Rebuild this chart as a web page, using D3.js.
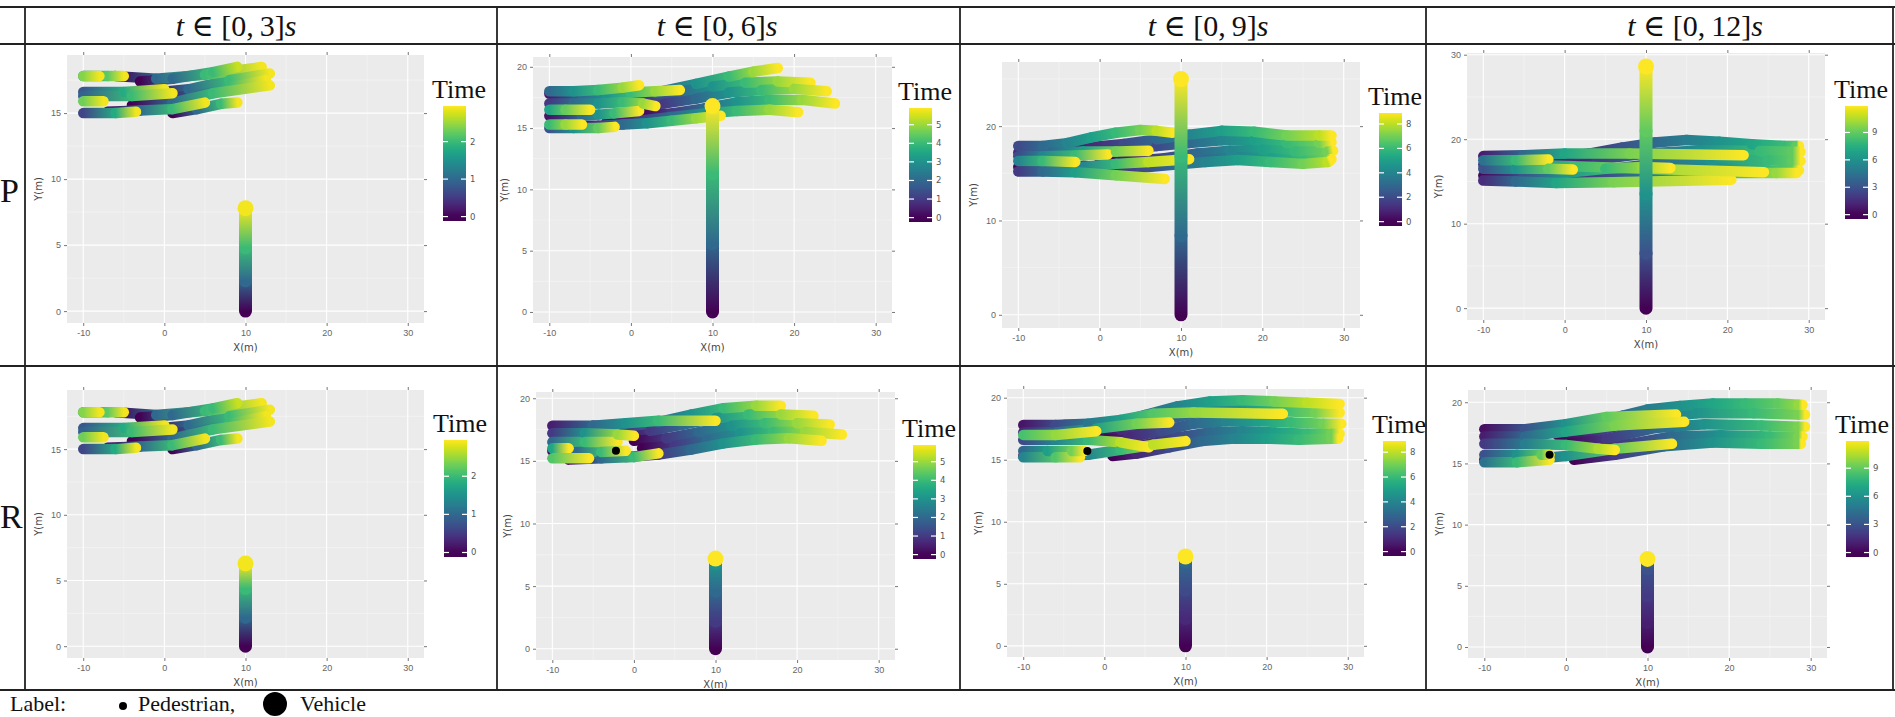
<!DOCTYPE html>
<meta charset="utf-8">
<script src="https://d3js.org/d3.v7.min.js"></script>
<style>
  body { margin: 0; background: #fff; }
</style>
<div id="fig"></div>
<script>

// ---- values ----
// time window of each column (s)
var tEnd = [3, 6, 9, 12];
var rowLabels = ["P", "R"];
// upper limit of the Time colour scale per column
var timeMax = [2.95, 5.9, 8.9, 11.9];
var timeTicks = [[0, 1, 2], [0, 1, 2, 3, 4, 5], [0, 2, 4, 6, 8], [0, 3, 6, 9]];
var xTicks = [-10, 0, 10, 20, 30];
var yTicksP = [[0, 5, 10, 15], [0, 5, 10, 15, 20], [0, 10, 20], [0, 10, 20, 30]];
var yTicksR = [[0, 5, 10, 15], [0, 5, 10, 15, 20], [0, 5, 10, 15, 20], [0, 5, 10, 15, 20]];

// pedestrian tracks, each point is [time, x, y]
var pedP1 = [
  [[0,-6,17.8],[1,-1,17.6],[2,5,17.9],[2.9,12,18.5]],
  [[0,-3,17.4],[1,1,17.6],[2,6,18.1],[2.7,9,18.5]],
  [[0,-2,16.5],[1,3,16.8],[2,8,17.5],[2.9,13,18.0]],
  [[0,-1,16.2],[1,4,16.3],[2,8,16.9],[2.9,12.5,17.5]],
  [[0,-4,15.6],[1,1,15.8],[2,6,16.5],[2.9,13,17.1]],
  [[0,1,15.0],[1,4,15.3],[2,7,15.7],[2.9,9,15.8]],
  [[0,-7,15.1],[1,-3,15.2],[2,1,15.3],[2.9,5,15.8]],
  [[0.8,-10,16.6],[1.8,-5,16.6],[2.9,0,16.8]],
  [[0.9,-10,16.3],[2,-4,16.3],[2.9,1,16.5]],
  [[0.6,-10,15.0],[1.8,-6,15.0],[2.9,-3.5,15.1]],
  [[1.2,-10,17.8],[2.2,-7,17.8],[2.9,-5,17.8]],
  [[2.4,-10,17.8],[2.9,-8,17.8]],
  [[2.3,-10,15.9],[2.9,-7.5,15.9]]
];
var pedR1 = pedP1;

var pedP2 = [
  [[0,-5,17.8],[1,-1,17.7],[2,3,17.9],[3,8,18.6],[4,12,19.2],[5,15,19.6],[5.9,18,19.9]],
  [[0,-2,17.3],[1,2,17.5],[2,6,18.0],[3,10,18.4],[4,14,18.7],[5,18,18.8],[5.9,22,18.7]],
  [[0,0,16.8],[1,4,17.0],[2,8,17.4],[3,12,17.9],[4,16,18.1],[5,20,18.2],[5.9,24,18.0]],
  [[0,1,16.0],[1,5,16.2],[2,9,16.6],[3,13,17.1],[4,17,17.3],[5,21,17.3],[5.9,25,17.0]],
  [[0,-3,15.5],[1,1,15.6],[2,5,15.9],[3,9,16.2],[4,13,16.4],[5,17,16.5],[5.9,20.5,16.3]],
  [[0,-7,15.2],[1,-4,15.2],[2,-1,15.3],[3,2,15.4],[4,5,15.6],[5,8,15.8],[5.9,11,16.0]],
  [[0.4,-10,17.8],[2,-6,17.8],[3,-3,17.8],[4,0,17.9],[5,3,18.0],[5.9,6,18.1]],
  [[2,-10,18.0],[3,-7,18.0],[4,-4,18.1],[5,-1,18.3],[5.9,1,18.5]],
  [[1,-10,17.0],[2,-7,17.0],[3,-4,17.0],[4,-1,17.1],[5,1.5,17.0],[5.9,3,16.8]],
  [[0.3,-10,16.0],[2,-6,16.0],[3,-4,16.1],[4,-2,16.2],[5.9,1,16.4]],
  [[3.5,-10,16.5],[4.5,-8,16.5],[5.9,-5,16.5]],
  [[4,-10,15.3],[5,-8,15.3],[5.9,-6,15.3]],
  [[1.5,-10,15.0],[3,-7,15.0],[4.5,-4,15.0],[5.9,-2,15.1]]
];

var pedP3 = [
  [[0,-5,17.9],[1,-1,17.8],[2,3,18.1],[3,7,18.6],[4,11,19.1],[5,15,19.5],[6,19,19.4],[7,23,19.0],[8,27,19.0],[8.9,28.5,19.0]],
  [[0,-1,17.4],[1,3,17.5],[2,7,17.9],[3,11,18.2],[4,15,18.5],[5,19,18.5],[6,23,18.2],[7,27,18.2],[8.9,28.5,18.3]],
  [[0,0,16.2],[1,4,16.3],[2,8,16.6],[3,12,17.1],[4,16,17.4],[5,20,17.5],[6,24,17.3],[7,28,17.3],[8.9,28.7,17.4]],
  [[0,1,15.6],[1,5,15.7],[2,9,16.0],[3,13,16.4],[4,17,16.7],[5,21,16.6],[6,25,16.3],[7,28,16.4],[8.9,28.5,16.5]],
  [[0,-2,15.8],[1,1,15.5],[2,5,15.6],[3,9,15.9],[4,13,16.2],[5,17,16.4],[6,21,16.2],[7,25,16.0],[8,28,16.2],[8.9,28.3,16.3]],
  [[2,-10,17.9],[3,-7,17.9],[4,-4,18.2],[5,-1,18.8],[6,2,19.3],[7,5,19.6],[8,7,19.5],[8.9,9,19.3]],
  [[1,-10,17.2],[3,-6,17.2],[5,-2,17.3],[7,2,17.3],[8.9,6,17.4]],
  [[2,-10,16.8],[4,-7,16.8],[6,-3,16.9],[8.9,1,17.0]],
  [[1.5,-10,15.2],[3,-7,15.2],[5,-3,15.1],[7,2,14.8],[8.9,8,14.4]],
  [[0.2,-10,15.7],[2,-6,15.6],[4,-2,15.7],[6,2,16.0],[8,6,16.2],[8.9,11,16.5]],
  [[4,-10,16.3],[6,-7,16.3],[8.9,-3,16.2]]
];

var pedP4 = [
  [[0,-5,17.9],[1,-1,17.8],[2,3,18.3],[3,7,19.0],[4,11,19.6],[5,15,19.9],[6,19,19.7],[7,23,19.4],[8,27,19.2],[9,28.5,19.2],[11.9,28.8,19.2]],
  [[0,-1,17.3],[2,4,17.6],[4,10,18.3],[6,17,18.7],[8,24,18.6],[9,28,18.5],[11.9,29,18.5]],
  [[0,0,16.1],[2,5,16.4],[4,11,17.1],[6,18,17.5],[8,25,17.5],[9,28,17.4],[11.9,29,17.4]],
  [[0,1,15.5],[2,6,15.9],[4,12,16.4],[6,19,16.6],[8,25,16.3],[9,28,16.2],[11.9,28.8,16.3]],
  [[1,-10,18.0],[4,-5,18.1],[7,0,18.3],[9.5,8,18.3],[11.9,22,18.1]],
  [[2,-10,17.0],[5,-5,17.0],[8,1,16.8],[10,10,16.5],[11.9,24.5,16.1]],
  [[1.5,-10,15.1],[4,-6,15.0],[7,-1,14.8],[9.5,6,14.9],[11.9,20.5,15.2]],
  [[0.3,-10,15.7],[3,-5,15.8],[6,0,16.0],[8,5,16.5],[10,9.5,16.7],[11.9,13,16.6]],
  [[3,-10,16.5],[6,-6,16.5],[9,-2,16.5],[11.9,1,16.4]],
  [[0,-3,15.3],[1,0,15.2],[2,3,15.4],[4,8,15.6],[6,14,15.9],[8,20,16.0],[10,26,16.0],[11.9,28.5,16.0]],
  [[4.5,-10,17.5],[8,-6,17.5],[11.9,-2,17.6]]
];

var pedR2 = [
  [[0,-5,17.8],[1,-1,17.7],[2,3,18.1],[3,7,18.7],[4,11,19.2],[5,15,19.4],[5.9,18,19.4]],
  [[0,-2,17.2],[1,2,17.4],[2,6,17.9],[3,10,18.4],[4,14,18.7],[5,18,18.7],[5.9,22,18.6]],
  [[0,0,16.6],[1,4,16.8],[2,8,17.3],[3,12,17.8],[4,16,18.0],[5,20,18.0],[5.9,24,17.9]],
  [[0,1,16.0],[1,5,16.2],[2,9,16.7],[3,13,17.2],[4,17,17.3],[5,21,17.3],[5.9,25.5,17.1]],
  [[0,-1,15.3],[1,3,15.5],[2,7,15.9],[3,11,16.4],[4,15,16.7],[5,19,16.8],[5.9,23,16.6]],
  [[0.5,-10,17.8],[2,-5,17.8],[3,-1,18.0],[4,3,18.2],[5.9,10,18.2]],
  [[1,-10,17.2],[3,-6,17.2],[5,-2,17.1],[5.9,0,17.0]],
  [[2,-10,16.5],[4,-6,16.5],[5.9,-2,16.5]],
  [[0.2,-10,15.8],[2,-7,15.7],[4,-4,15.7],[5.9,-1,15.8]],
  [[3.5,-10,16.0],[5.9,-8,16.0]],
  [[4.3,-10,15.2],[5.9,-5.5,15.2]],
  [[0,-8,15.1],[2,-4,15.2],[4,0,15.3],[5.9,3,15.6]]
];

var pedR3 = [
  [[0,-5,17.8],[1,-2,17.8],[2,1,17.9],[3,5,18.6],[4,9,19.3],[5,13,19.7],[6,17,19.8],[7,21,19.7],[8,25,19.6],[8.9,29,19.5]],
  [[0,-1,17.3],[1,2,17.4],[2,6,18.0],[3,10,18.6],[4,14,19.0],[5,18,19.0],[6,22,18.9],[7,26,18.8],[8.9,29,18.8]],
  [[0,0,16.6],[1,3,16.8],[2,7,17.3],[3,11,17.9],[4,15,18.1],[5,19,18.1],[6,23,18.0],[7,27,17.9],[8.9,29.2,17.9]],
  [[0,2,16.0],[1,5,16.2],[2,9,16.8],[3,13,17.2],[4,17,17.3],[5,21,17.2],[6,25,17.1],[7,28,17.1],[8.9,29,17.1]],
  [[0,1,15.3],[1,4,15.5],[2,8,16.0],[3,12,16.5],[4,16,16.7],[5,20,16.7],[6,24,16.6],[7,28,16.7],[8.9,28.8,16.7]],
  [[0.5,-10,17.8],[2,-6,17.8],[3.5,-2,17.9],[5,2,18.2],[6.5,6,18.7],[7.5,11,18.8],[8.9,22,18.7]],
  [[1,-10,17.2],[3,-6,17.2],[5,-1,17.5],[7,4,17.9],[8.9,8,18.0]],
  [[6.3,-10,17.0],[7.5,-6,17.0],[8.9,-1,17.3]],
  [[2,-10,16.6],[4,-6,16.6],[6,-2,16.6],[8,2,16.4],[8.9,5.5,16.0]],
  [[0.3,-10,15.3],[2,-6,15.3],[4,-2,15.4],[6,2,15.8],[8,6,16.2],[8.9,10,16.5]],
  [[3,-10,15.7],[5,-7,15.7],[7,-4,15.7],[8.9,-2.5,15.7]],
  [[4,-10,15.2],[6.5,-6,15.2],[8.9,-3,15.2]]
];

var pedR4 = [
  [[0,-5,17.8],[1,-2,17.8],[2,1,17.9],[3,4,18.4],[4,7,18.9],[5,10,19.4],[6,14,19.7],[7,18,19.9],[8,22,19.9],[9,26,19.9],[10,28.5,19.8],[11.9,29,19.8]],
  [[0,-1,17.3],[2,4,17.7],[4,10,18.6],[6,16,19.1],[8,23,19.1],[9.5,28.5,19.0],[11.9,29.3,19.0]],
  [[0,0,16.6],[2,5,17.0],[4,11,17.9],[6,17,18.2],[8,24,18.1],[9.5,28.5,18.0],[11.9,29.3,18.0]],
  [[0,2,16.0],[2,7,16.5],[4,13,17.2],[6,19,17.3],[8,25,17.2],[9.5,28.5,17.2],[11.9,29,17.2]],
  [[0,1,15.3],[2,6,15.7],[4,12,16.4],[6,18,16.7],[8,24,16.6],[9.5,28.5,16.6],[11.9,28.8,16.6]],
  [[0.5,-10,17.8],[3,-5,17.8],[6,0,18.2],[9,5,18.8],[11.9,13.5,19.0]],
  [[1,-10,17.2],[4,-5,17.2],[7,0,17.6],[9.5,6,18.1],[11.9,14.5,18.4]],
  [[2,-10,16.6],[5,-5,16.6],[8,0,16.5],[10.5,4,16.2],[11.9,6,16.1]],
  [[0.3,-10,15.3],[3,-5,15.3],[6,0,15.6],[9,6,16.2],[11.9,13,16.6]],
  [[3,-10,15.7],[6,-6,15.7],[9,-3,15.7],[11.9,-2,15.7]],
  [[4.5,-10,15.1],[8,-6,15.1],[11.9,-2,15.3]]
];

// vehicle tracks [time, x, y]
var vehP1 = [[0,10,0],[1,10,2.3],[2,10,4.8],[2.9,10,7.8]];
var vehP2 = [[0,10,0],[2,10,5.6],[4,10,11.3],[5.9,10,16.8]];
var vehP3 = [[0,10,0],[3,10,8.4],[6,10,16.8],[8.9,10,25]];
var vehP4 = [[0,10,0],[3,10,6.5],[6,10,13.5],[9,10,21],[11.9,10,28.6]];
var vehR1 = [[0,10,0],[1,10,2.2],[2,10,4.4],[2.9,10,6.3]];
var vehR2 = [[0,10,0],[1,10,2.2],[2,10,4.6],[3,10,6.8],[3.5,10,7.2],[5.9,10,7.2]];
var vehR3 = [[0,10,0],[1,10,2.2],[2,10,4.5],[3,10,6.8],[3.5,10,7.2],[8.9,10,7.2]];
var vehR4 = [[0,10,0],[1,10,2.0],[2,10,4.2],[3,10,6.4],[4,10,7.2],[11.9,10,7.2]];

// pedestrians drawn black (no time value)
var dotR2 = [[-2.2,15.8]];
var dotR3 = [[-2.1,15.7]];
var dotR4 = [[-2.0,15.7]];

// ---- layout ----
var xDomain = [-12, 32];
var yDomP = [[-0.9,19.4],[-0.9,20.8],[-1.4,26.8],[-1.4,30.2]];
var yDomR = [[-0.9,19.5],[-0.9,20.5],[-0.9,20.7],[-0.9,21.0]];
// plot boxes [left, top, right, bottom]; colour bars [left, top, bottom]
var boxP = [[67,55,424,323],[533,57,892,323],[1002,62,1360,328],[1467,53,1825,320]];
var boxR = [[67,390,424,658],[536,392,895,660],[1007,389,1364,657],[1468,390,1827,658]];
var barP = [[443,106,221],[909,108,222],[1379,113,226],[1845,106,219]];
var barR = [[444,440,557],[913,445,559],[1383,441,556],[1846,441,557]];
var headerX = [236, 717, 1208, 1695];

var panels = [
  {col:0, ped:pedP1, veh:vehP1, dots:[],    yDom:yDomP[0], yTicks:yTicksP[0], box:boxP[0], bar:barP[0]},
  {col:1, ped:pedP2, veh:vehP2, dots:[],    yDom:yDomP[1], yTicks:yTicksP[1], box:boxP[1], bar:barP[1]},
  {col:2, ped:pedP3, veh:vehP3, dots:[],    yDom:yDomP[2], yTicks:yTicksP[2], box:boxP[2], bar:barP[2]},
  {col:3, ped:pedP4, veh:vehP4, dots:[],    yDom:yDomP[3], yTicks:yTicksP[3], box:boxP[3], bar:barP[3]},
  {col:0, ped:pedR1, veh:vehR1, dots:[],    yDom:yDomR[0], yTicks:yTicksR[0], box:boxR[0], bar:barR[0]},
  {col:1, ped:pedR2, veh:vehR2, dots:dotR2, yDom:yDomR[1], yTicks:yTicksR[1], box:boxR[1], bar:barR[1]},
  {col:2, ped:pedR3, veh:vehR3, dots:dotR3, yDom:yDomR[2], yTicks:yTicksR[2], box:boxR[2], bar:barR[2]},
  {col:3, ped:pedR4, veh:vehR4, dots:dotR4, yDom:yDomR[3], yTicks:yTicksR[3], box:boxR[3], bar:barR[3]}
];

var serif = "'Liberation Serif', 'DejaVu Serif', serif";

var svg = d3.select("#fig")
  .append("svg")
    .attr("width", 1895)
    .attr("height", 717)
    .style("font-family", "'DejaVu Sans', sans-serif");
var defs = svg.append("defs");
var gid = 0;

// ---- table rules ----
[7, 44, 366, 690].forEach(function(yy) {
  svg.append("line").attr("x1", 0).attr("x2", 1895).attr("y1", yy).attr("y2", yy)
    .attr("stroke", "#222").attr("stroke-width", 1.8);
});
[25, 497, 960, 1426, 1893].forEach(function(xx) {
  svg.append("line").attr("x1", xx).attr("x2", xx).attr("y1", 7).attr("y2", 690)
    .attr("stroke", "#222").attr("stroke-width", 1.8);
});

// column headers  t ∈ [0,T]s
tEnd.forEach(function(T, i) {
  var t = svg.append("text")
    .attr("x", headerX[i]).attr("y", 36)
    .attr("text-anchor", "middle")
    .style("font-family", serif).style("font-size", "30px").attr("fill", "#111");
  t.append("tspan").style("font-style", "italic").text("t");
  t.append("tspan").text(" \u2208 [0,\u2009" + T + "]");
  t.append("tspan").style("font-style", "italic").text("s");
});

// row labels
svg.append("text").attr("x", 0).attr("y", 202).text(rowLabels[0])
  .style("font-family", serif).style("font-size", "34px").attr("fill", "#111");
svg.append("text").attr("x", 0).attr("y", 528).text(rowLabels[1])
  .style("font-family", serif).style("font-size", "34px").attr("fill", "#111");

// ---- one ggplot-like panel ----
function drawPanel(p) {
  var b = p.box;
  var x = d3.scaleLinear().domain(xDomain).range([b[0], b[2]]);
  var y = d3.scaleLinear().domain(p.yDom).range([b[3], b[1]]);
  var tmax = timeMax[p.col];
  var color = d3.scaleSequential(d3.interpolateViridis).domain([0, tmax]);
  var g = svg.append("g");

  g.append("rect")
    .attr("x", b[0]).attr("y", b[1])
    .attr("width", b[2] - b[0]).attr("height", b[3] - b[1])
    .attr("fill", "#ebebeb");

  // grid
  var xMinor = xTicks.slice(0, -1).map(function(d) { return d + 5; });
  var step = p.yTicks[1] - p.yTicks[0];
  var yMinor = p.yTicks.map(function(d) { return d + step / 2; })
    .filter(function(d) { return d < p.yDom[1]; });
  g.selectAll(".xmin").data(xMinor).enter().append("line")
    .attr("x1", x).attr("x2", x).attr("y1", b[1]).attr("y2", b[3])
    .attr("stroke", "#f7f7f7").attr("stroke-width", 0.6);
  g.selectAll(".ymin").data(yMinor).enter().append("line")
    .attr("y1", y).attr("y2", y).attr("x1", b[0]).attr("x2", b[2])
    .attr("stroke", "#f7f7f7").attr("stroke-width", 0.6);
  g.selectAll(".xmaj").data(xTicks).enter().append("line")
    .attr("x1", x).attr("x2", x).attr("y1", b[1]).attr("y2", b[3])
    .attr("stroke", "#fff").attr("stroke-width", 1.1);
  g.selectAll(".ymaj").data(p.yTicks).enter().append("line")
    .attr("y1", y).attr("y2", y).attr("x1", b[0]).attr("x2", b[2])
    .attr("stroke", "#fff").attr("stroke-width", 1.1);

  // axes (top/right carry unlabelled ticks)
  var fmt = function(d) { return String(d); };
  var axB = g.append("g").attr("transform", "translate(0," + b[3] + ")")
    .call(d3.axisBottom(x).tickValues(xTicks).tickSize(3).tickPadding(4).tickFormat(fmt));
  var axL = g.append("g").attr("transform", "translate(" + b[0] + ",0)")
    .call(d3.axisLeft(y).tickValues(p.yTicks).tickSize(3).tickPadding(3).tickFormat(fmt));
  var axT = g.append("g").attr("transform", "translate(0," + b[1] + ")")
    .call(d3.axisTop(x).tickValues(xTicks).tickSize(3).tickFormat(""));
  var axR = g.append("g").attr("transform", "translate(" + b[2] + ",0)")
    .call(d3.axisRight(y).tickValues(p.yTicks).tickSize(3).tickFormat(""));
  [axB, axL, axT, axR].forEach(function(a) {
    a.select(".domain").remove();
    a.selectAll("line").attr("stroke", "#777");
    a.selectAll("text").attr("fill", "#666").style("font-size", "9px");
  });

  g.append("text").attr("x", (b[0] + b[2]) / 2).attr("y", b[3] + 28)
    .attr("text-anchor", "middle").style("font-size", "10px").attr("fill", "#444").text("X(m)");
  g.append("text")
    .attr("transform", "translate(" + (b[0] - 25) + "," + ((b[1] + b[3]) / 2) + ") rotate(-90)")
    .attr("text-anchor", "middle").style("font-size", "10px").attr("fill", "#444").text("Y(m)");

  // coloured segment with a gradient from start time to end time
  function segment(layer, s, width) {
    var x1 = x(s[0][1]), y1 = y(s[0][2]), x2 = x(s[1][1]), y2 = y(s[1][2]);
    var stroke;
    if (Math.abs(x2 - x1) + Math.abs(y2 - y1) < 0.5) {
      stroke = color(s[1][0]);
    } else {
      var id = "seg" + (gid++);
      var lg = defs.append("linearGradient").attr("id", id)
        .attr("gradientUnits", "userSpaceOnUse")
        .attr("x1", x1).attr("y1", y1).attr("x2", x2).attr("y2", y2);
      lg.append("stop").attr("offset", 0).attr("stop-color", color(s[0][0]));
      lg.append("stop").attr("offset", 1).attr("stop-color", color(s[1][0]));
      stroke = "url(#" + id + ")";
    }
    layer.append("line")
      .attr("x1", x1).attr("y1", y1).attr("x2", x2).attr("y2", y2)
      .attr("stroke", stroke).attr("stroke-width", width)
      .attr("stroke-linecap", "round");
  }

  // pedestrians: later times are drawn on top
  var segs = [];
  p.ped.forEach(function(tr) {
    for (var i = 0; i < tr.length - 1; i++) segs.push([tr[i], tr[i + 1]]);
  });
  segs.sort(function(a, c) { return a[0][0] - c[0][0]; });
  var pedLayer = g.append("g");
  segs.forEach(function(s) { segment(pedLayer, s, 10.5); });

  // vehicle
  var vehLayer = g.append("g");
  for (var i = 0; i < p.veh.length - 1; i++) segment(vehLayer, [p.veh[i], p.veh[i + 1]], 13);
  var last = p.veh[p.veh.length - 1];
  vehLayer.append("circle")
    .attr("cx", x(last[1])).attr("cy", y(last[2])).attr("r", 8)
    .attr("fill", color(last[0]));

  g.selectAll(".blk").data(p.dots).enter().append("circle")
    .attr("cx", function(d) { return x(d[0]); })
    .attr("cy", function(d) { return y(d[1]); })
    .attr("r", 4).attr("fill", "#000");

  // colour bar legend
  var bar = p.bar, bw = 23;
  var cb = d3.scaleLinear().domain([-0.04 * tmax, tmax]).range([bar[2], bar[1]]);
  var gradId = "bar" + (gid++);
  var lg = defs.append("linearGradient").attr("id", gradId)
    .attr("x1", 0).attr("y1", 1).attr("x2", 0).attr("y2", 0);
  d3.range(0, 21).forEach(function(k) {
    var v = cb.domain()[0] + k / 20 * (cb.domain()[1] - cb.domain()[0]);
    lg.append("stop").attr("offset", k / 20).attr("stop-color", color(Math.max(0, v)));
  });
  g.append("rect").attr("x", bar[0]).attr("y", bar[1])
    .attr("width", bw).attr("height", bar[2] - bar[1])
    .attr("fill", "url(#" + gradId + ")");
  timeTicks[p.col].forEach(function(v) {
    var yy = cb(v);
    g.append("line").attr("x1", bar[0]).attr("x2", bar[0] + 5).attr("y1", yy).attr("y2", yy)
      .attr("stroke", "#fff").attr("stroke-width", 1.2);
    g.append("line").attr("x1", bar[0] + bw - 5).attr("x2", bar[0] + bw).attr("y1", yy).attr("y2", yy)
      .attr("stroke", "#fff").attr("stroke-width", 1.2);
    g.append("text").attr("x", bar[0] + bw + 4).attr("y", yy).attr("dy", "0.35em")
      .style("font-size", "8.5px").attr("fill", "#555").text(v);
  });
  g.append("text").attr("x", bar[0] - 11).attr("y", bar[1] - 8)
    .style("font-family", serif).style("font-size", "26px").attr("fill", "#111").text("Time");
}

panels.forEach(drawPanel);

// ---- bottom legend line ----
var leg = svg.append("g").style("font-family", serif).style("font-size", "22px").attr("fill", "#111");
leg.append("text").attr("x", 10).attr("y", 711).text("Label:");
leg.append("circle").attr("cx", 123).attr("cy", 706).attr("r", 4).attr("fill", "#000");
leg.append("text").attr("x", 138).attr("y", 711).text("Pedestrian,");
leg.append("circle").attr("cx", 275).attr("cy", 704).attr("r", 12).attr("fill", "#000");
leg.append("text").attr("x", 300).attr("y", 711).text("Vehicle");

</script>
